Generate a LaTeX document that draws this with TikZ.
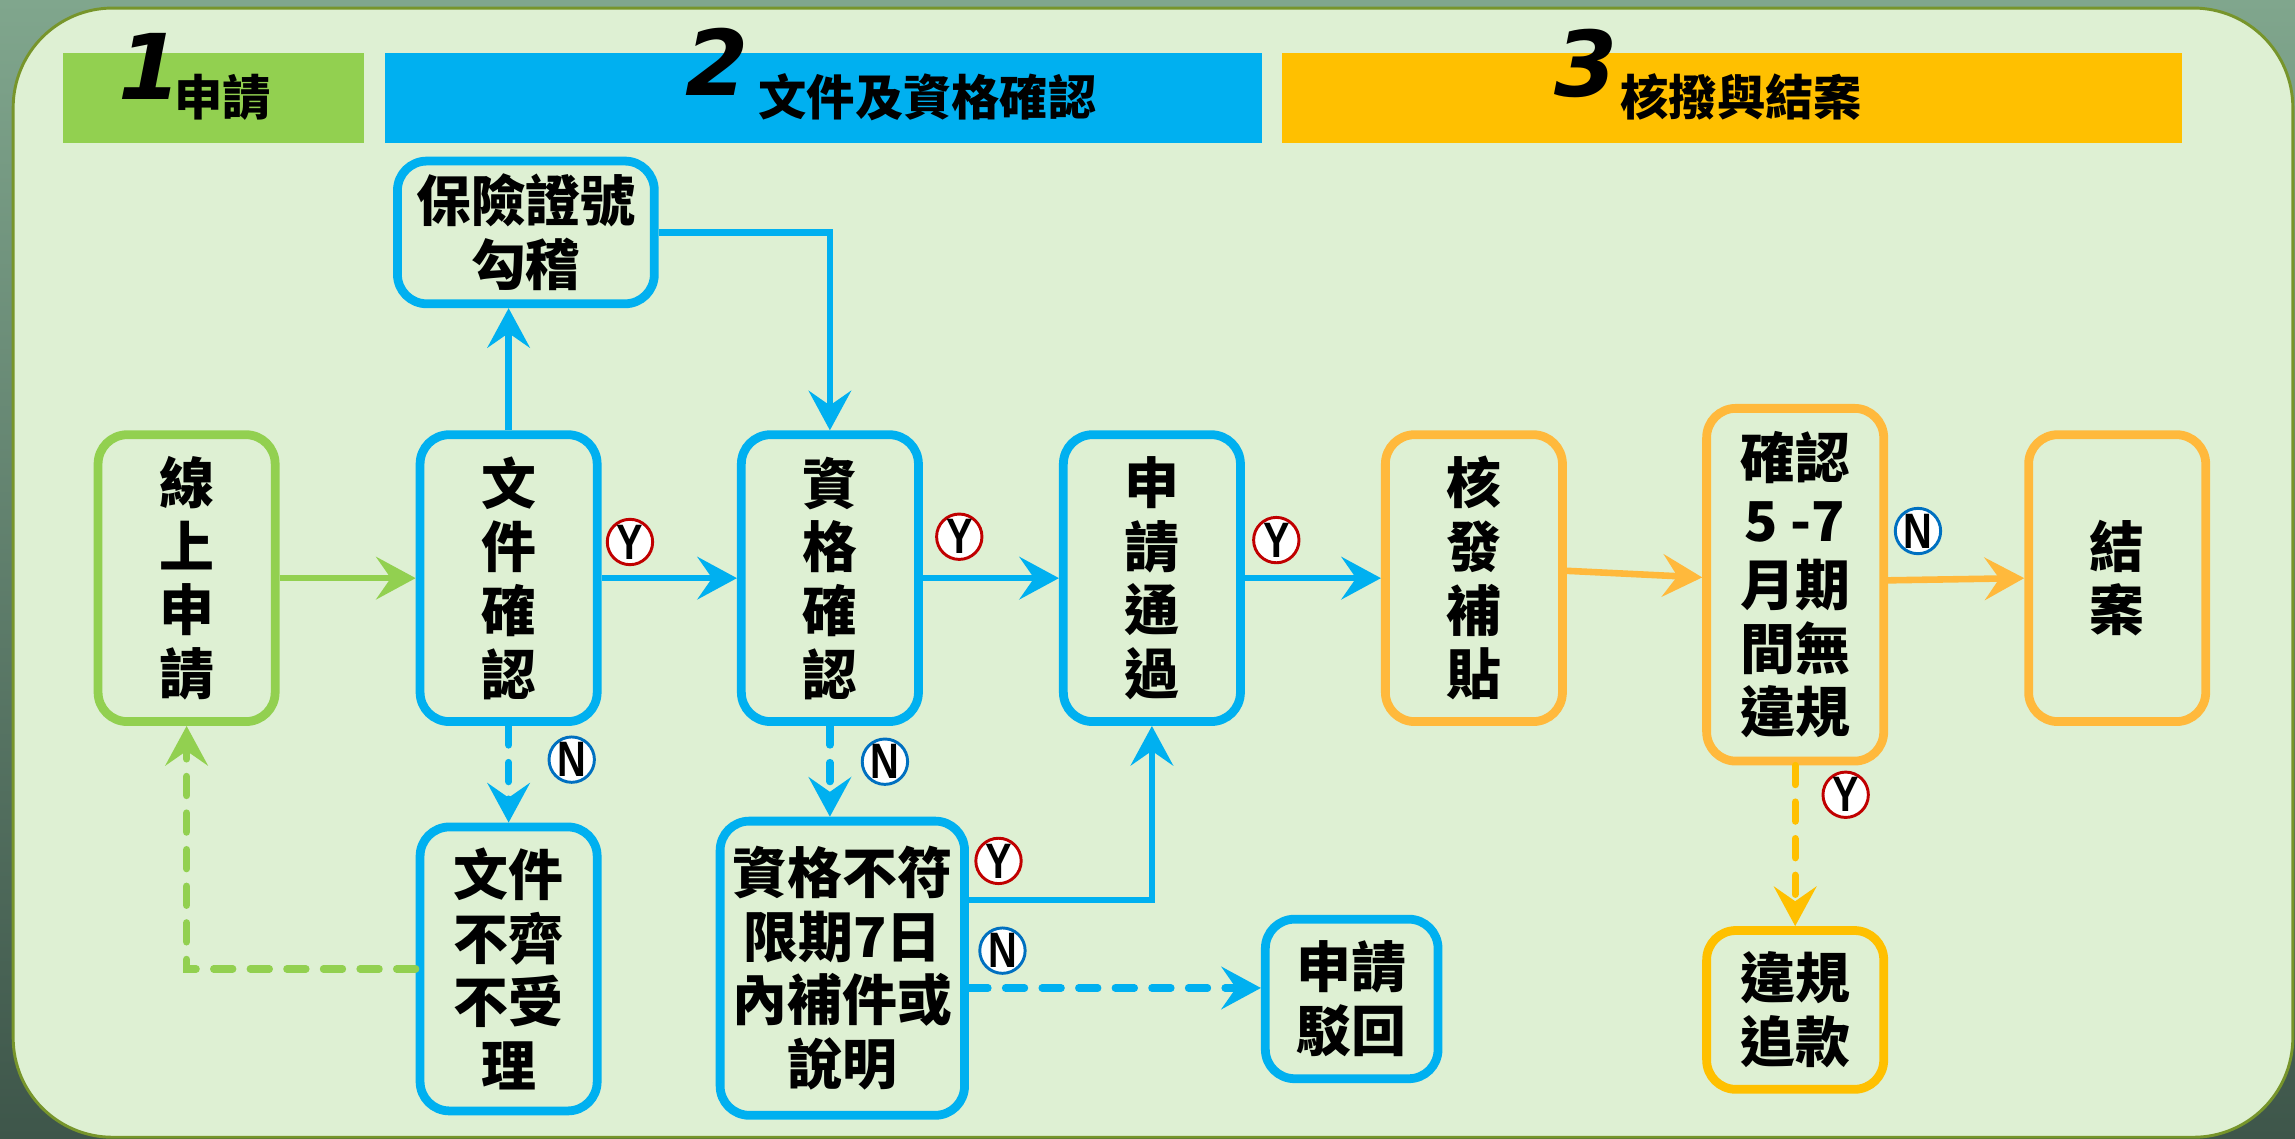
\documentclass[tikz,border=0pt]{standalone}
\usepackage{fontspec}
\newfontfamily\cjk{Noto Sans CJK TC}
\newfontfamily\numfam{DejaVu Sans}
\newfontfamily\labfam{Liberation Sans}
\usetikzlibrary{arrows.meta}
\definecolor{cgreen}{HTML}{92D050}
\definecolor{cblue}{HTML}{00B0F0}
\definecolor{cgoldh}{HTML}{FFC000}
\definecolor{corange}{HTML}{FFB93C}
\definecolor{cpanel}{HTML}{DEF0D3}
\definecolor{colive}{HTML}{77952B}
\definecolor{cbgtop}{HTML}{80A68D}
\definecolor{cbgbot}{HTML}{3E564A}
\definecolor{cred}{HTML}{C00000}
\definecolor{cnblue}{HTML}{0070C0}
\newcommand\boxfont{\cjk\bfseries\fontsize{37.5}{43.5}\selectfont}
\newcommand\hdrfont{\cjk\bfseries\fontsize{33}{36}\selectfont}
\newcommand\numfont{\numfam\bfseries\itshape\fontsize{62}{62}\selectfont}
\newcommand\labfont{\labfam\bfseries\fontsize{34}{34}\selectfont}
\tikzset{
  flowbox/.style={rounded corners=20pt, line width=6pt, align=center, inner sep=0pt, font=\boxfont, minimum width=121pt},
  gbox/.style={flowbox, draw=cgreen},
  bbox/.style={flowbox, draw=cblue},
  obox/.style={flowbox, draw=corange},
  ybox/.style={flowbox, draw=cgoldh},
  hdrband/.style={inner sep=0pt, minimum height=62pt},
  numtxt/.style={inner sep=0pt, anchor=base west, font=\numfont},
  hdrtxt/.style={inner sep=0pt, anchor=base west, font=\hdrfont},
  conn/.style={line width=4.5pt, -{Stealth[length=27pt,width=29pt,inset=10pt]}},
  dconn/.style={line width=5pt, line cap=round, dash pattern=on 13pt off 12pt, -{Stealth[length=27pt,width=29pt,inset=10pt]}},
  ylab/.style={circle, draw=cred, line width=2pt, fill=white, minimum size=31pt, inner sep=0pt, font=\labfont},
  nlab/.style={circle, draw=cnblue, line width=2pt, fill=white, minimum size=31pt, inner sep=0pt, font=\labfont}
}
\begin{document}
\begin{tikzpicture}[x=1pt,y=-1pt]
\useasboundingbox (0,0) rectangle (1568,778);
\shade[top color=cbgtop, bottom color=cbgbot] (0,0) rectangle (1568,778);
\path[draw=colive, fill=cpanel, line width=2pt, rounded corners=68pt] (9,5.5) rectangle (1566.5,777);

% headers
\node[hdrband, fill=cgreen, minimum width=206pt] (h1) at (146,67) {};
\node[hdrband, fill=cblue, minimum width=599pt] (h2) at (562.5,67) {};
\node[hdrband, fill=cgoldh, minimum width=615pt] (h3) at (1183.5,67) {};
\node[numtxt] (h1n) at (81,68) {1};
\node[hdrtxt] (h1t) at (119,79) {申請};
\node[numtxt] (h2n) at (468,65) {2};
\node[hdrtxt] (h2t) at (518,79) {文件及資格確認};
\node[numtxt] (h3n) at (1062,66) {3};
\node[hdrtxt] (h3t) at (1107,79) {核撥與結案};

% boxes
\node[gbox, minimum height=196pt] (n1) at (127.5,395) {線\\上\\申\\請};
\node[bbox, minimum height=196pt] (n2) at (347.5,395) {文\\件\\確\\認};
\node[bbox, minimum height=196pt] (n3) at (567,395) {資\\格\\確\\認};
\node[bbox, minimum height=196pt] (n4) at (787,395) {申\\請\\通\\過};
\node[obox, minimum height=196pt] (n5) at (1007,395) {核\\發\\補\\貼};
\node[obox, minimum height=241pt] (n6) at (1226.5,399.5) {確認\\5 -7\\月期\\間無\\違規};
\node[obox, minimum height=196pt] (n7) at (1446.5,395) {結\\案};
\node[bbox, minimum width=175.5pt, minimum height=97.5pt] (n8) at (359.3,158.8) {保險證號\\勾稽};
\node[bbox, minimum height=194pt] (n9) at (347.5,662) {文件\\不齊\\不受\\理};
\node[bbox, minimum width=167pt, minimum height=201pt] (n10) at (575.5,661.5) {資格不符\\限期7日\\內補件或\\說明};
\node[bbox, minimum width=118pt, minimum height=109pt] (n11) at (923.5,682.5) {申請\\駁回};
\node[ybox, minimum height=108.5pt] (n12) at (1226.5,690) {違規\\追款};

% connectors
\draw[conn, cgreen] (n1) -- (n2);
\draw[conn, cblue] (n2) -- (n3);
\draw[conn, cblue] (n3) -- (n4);
\draw[conn, cblue] (n4) -- (n5);
\draw[conn, corange] ([yshift=5pt]n5.east) -- ([yshift=5pt]n6.west);
\draw[conn, corange] ([yshift=3pt]n6.east) -- (n7.west);
\draw[conn, cblue] (n2.north) -- (n2.north |- n8.south);
\draw[conn, cblue] (n8.east) -| (n3.north);
\draw[dconn, cblue] (n2.south) -- (n9.north);
\draw[dconn, cgreen] (n9.west) -| (n1.south);
\draw[dconn, cblue] (n3.south) -- (n3.south |- n10.north);
\draw[conn, cblue] ([yshift=46.5pt]n10.east) -| (n4.south);
\draw[dconn, cblue] ([yshift=-13.5pt]n10.east) -- ([yshift=-13.5pt]n10.east -| n11.west);
\draw[dconn, cgoldh] (n6.south) -- (n12.north);

% Y / N labels
\node[ylab] (y1) at (430.4,370.3) {\scalebox{0.8}[1]{Y}};
\node[ylab] (y2) at (655.4,366.7) {\scalebox{0.8}[1]{Y}};
\node[ylab] (y3) at (872,369) {\scalebox{0.8}[1]{Y}};
\node[ylab] (y4) at (682.2,588.2) {\scalebox{0.8}[1]{Y}};
\node[ylab] (y5) at (1261,543) {\scalebox{0.8}[1]{Y}};
\node[nlab] (m1) at (390.6,519) {\scalebox{0.8}[1]{N}};
\node[nlab] (m2) at (604.6,520.4) {\scalebox{0.8}[1]{N}};
\node[nlab] (m3) at (684.9,649.5) {\scalebox{0.8}[1]{N}};
\node[nlab] (m4) at (1310.4,362.8) {\scalebox{0.8}[1]{N}};
\end{tikzpicture}
\end{document}
